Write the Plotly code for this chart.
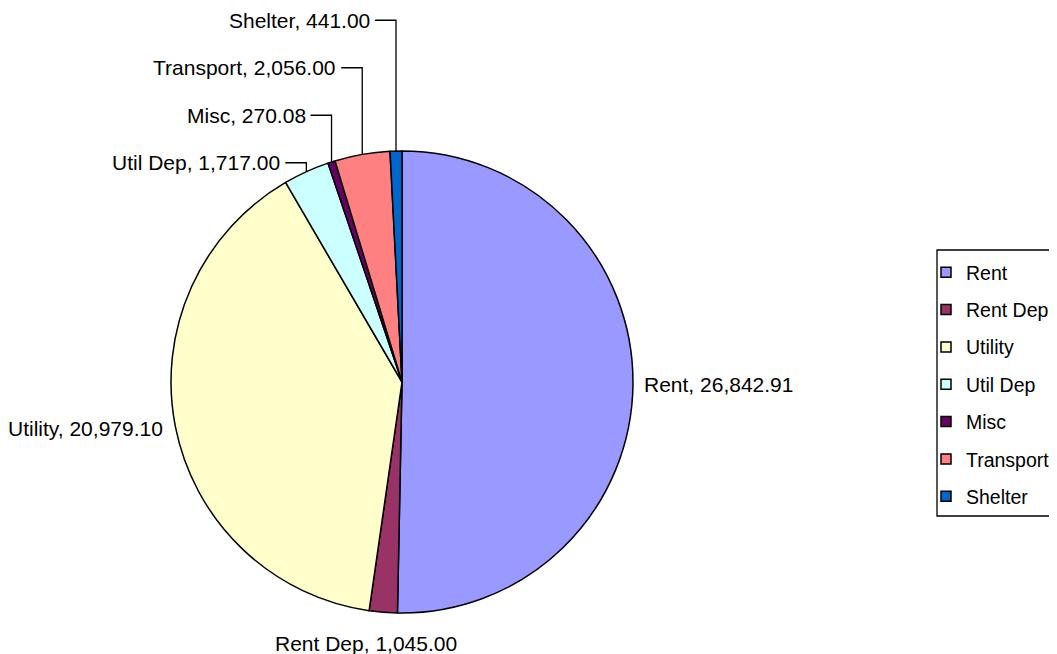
import math
import plotly.graph_objects as go

# ---- data ----
categories = ["Rent", "Rent Dep", "Utility", "Util Dep", "Misc", "Transport", "Shelter"]
values = [26842.91, 1045.00, 20979.10, 1717.00, 270.08, 2056.00, 441.00]
colors = ["#9999FF", "#993366", "#FFFFCC", "#CCFFFF", "#660066", "#FF8080", "#0066CC"]

# ---- layout constants (page pixel coordinates) ----
W, H = 1057, 654
OFF = 8                 # page body margin in the browser
PIE_LEFT, PIE_RIGHT = 171, 633
PIE_TOP, PIE_BOTTOM = 151, 613
FONT = "Arial, Liberation Sans, sans-serif"
LABEL_SIZE = 21
LEGEND_SIZE = 19.5
ROW_GAP = 47.5          # spacing of stacked labels for crowded top slices
CROWD_ANGLE = 320       # slices with mid angle beyond this are stacked above the pie


def px(x):
    return (x - OFF) / W


def py(y):
    return 1 - (y - OFF) / H


DOM_X = [px(PIE_LEFT), px(PIE_RIGHT)]
DOM_Y = [py(PIE_BOTTOM), py(PIE_TOP)]
cx = (PIE_LEFT + PIE_RIGHT) / 2
cy = (PIE_TOP + PIE_BOTTOM) / 2
r = min(PIE_RIGHT - PIE_LEFT, PIE_BOTTOM - PIE_TOP) / 2

fig = go.Figure()
fig.add_trace(go.Pie(
    labels=categories, values=values, sort=False, direction="clockwise", rotation=0,
    marker=dict(colors=colors, line=dict(color="black", width=1.5)),
    textinfo="none", hoverinfo="skip", showlegend=False,
    domain=dict(x=DOM_X, y=DOM_Y),
))

# legend entries (one group each, so that they can be spaced)
for c, col in zip(categories, colors):
    fig.add_trace(go.Scatter(
        x=[None], y=[None], mode="markers", name=c, legendgroup=c,
        marker=dict(symbol="square", size=10, color=col, line=dict(color="black", width=1.5)),
    ))

total = sum(values)
annotations = []
shapes = []
cum = 0.0
row = 0
first_crowd_y = None
for c, v in zip(categories, values):
    mid = (cum + v / 2) / total
    cum += v
    th = math.radians(mid * 360)
    ux, uy = math.sin(th), -math.cos(th)
    rx, ry = cx + r * ux, cy + r * uy
    text = f"{c}, {v:,.2f}"
    if mid * 360 > CROWD_ANGLE:
        if first_crowd_y is None:
            first_crowd_y = ry - 9
        ly = first_crowd_y - row * ROW_GAP
        row += 1
        tx = rx - 24
        annotations.append(dict(x=px(tx), y=py(ly), xref="paper", yref="paper",
                                text=text, showarrow=False, xanchor="right", yanchor="middle",
                                font=dict(family=FONT, size=LABEL_SIZE, color="black")))
        shapes.append(dict(type="path", xref="paper", yref="paper",
                           path=f"M {px(rx)},{py(ry)} L {px(rx)},{py(ly)} L {px(tx + 3)},{py(ly)}",
                           line=dict(color="black", width=1.3)))
    else:
        d = 9 + 9 * abs(uy)
        ax, ay = cx + (r + d) * ux, cy + (r + d) * uy
        if ux > 0.35:
            xa, ya = "left", "middle"
        elif ux < -0.35:
            xa, ya = "right", "middle"
        else:
            xa, ya = "center", ("top" if uy > 0 else "bottom")
            ax += ux * 200
        annotations.append(dict(x=px(ax), y=py(ay), xref="paper", yref="paper",
                                text=text, showarrow=False, xanchor=xa, yanchor=ya,
                                font=dict(family=FONT, size=LABEL_SIZE, color="black")))

# legend frame
shapes.append(dict(type="rect", xref="paper", yref="paper",
                   x0=px(937), x1=px(1075), y0=py(250), y1=py(516),
                   line=dict(color="black", width=1.3), fillcolor="rgba(0,0,0,0)"))

fig.update_layout(
    width=W, height=H, margin=dict(l=0, r=0, t=0, b=0),
    paper_bgcolor="white", plot_bgcolor="white",
    xaxis=dict(visible=False), yaxis=dict(visible=False),
    annotations=annotations, shapes=shapes,
    showlegend=True,
    legend=dict(x=px(926), y=py(253), xanchor="left", yanchor="top",
                font=dict(family=FONT, size=LEGEND_SIZE, color="black"),
                tracegroupgap=9, borderwidth=0, bgcolor="rgba(0,0,0,0)"),
    hovermode=False,
)

fig.write_html("out.html")
